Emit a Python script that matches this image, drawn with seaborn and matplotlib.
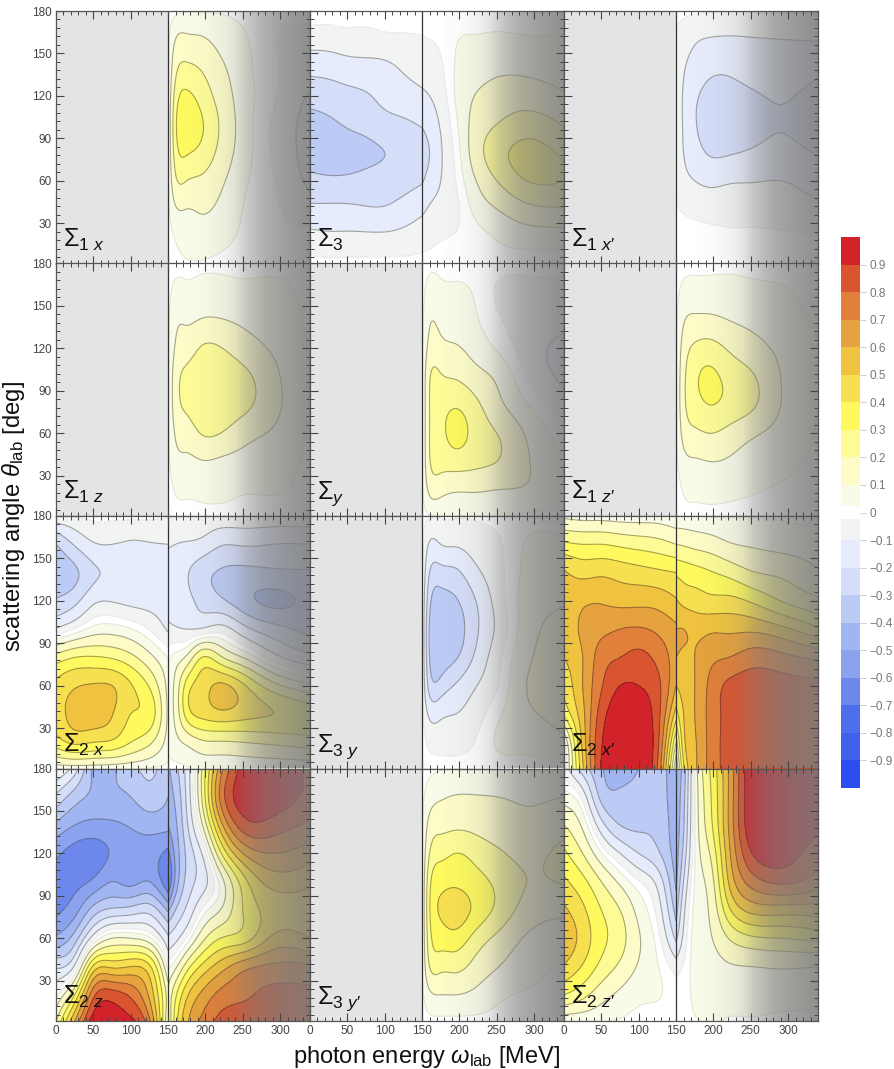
"""Beam asymmetries vs photon energy and scattering angle, 4x3 contour grid."""

import numpy as np
import matplotlib
matplotlib.use("Agg")
import matplotlib.pyplot as plt
import seaborn as sns
from matplotlib.colors import BoundaryNorm, ListedColormap

omega_low = [0, 25, 50, 75, 100, 125, 150]
omega_high = [150, 160, 175, 195, 220, 250, 290, 340]
theta = [1.5, 20, 40, 60, 80, 100, 120, 140, 160, 180]

levels = [-1, -.9, -.8, -.7, -.6, -.5, -.4, -.3, -.2, -.1, -.025,
          .025, .1, .2, .3, .4, .5, .6, .7, .8, .9, 1]
level_colors = ["#2c4cef", "#4060ec", "#4f6eec", "#6c88ed", "#8ba2ef", "#a1b5f3",
                "#bccbf6", "#d5def9", "#e6ecfb", "#f2f4f3", "#ffffff", "#f9fbe9",
                "#fdfcc8", "#fdfb96", "#fdf95e", "#f7e04f", "#efc240", "#e5a23e",
                "#e0803a", "#d9552f", "#d2232a"]
cbar_ticks = [-.9, -.8, -.7, -.6, -.5, -.4, -.3, -.2, -.1, 0, .1, .2, .3, .4, .5, .6, .7, .8, .9]

x_ticks = [0, 50, 100, 150, 200, 250, 300]
y_ticks = [30, 60, 90, 120, 150, 180]

s1x_high = [[0, 0, .01, .01, .01, .01, .01, .01, .005, 0],
            [.01, .03, .09, .18, .25, .28, .24, .17, .1, .01],
            [.02, .05, .1, .2, .31, .37, .32, .22, .12, .02],
            [.02, .06, .11, .18, .27, .31, .26, .19, .11, .02],
            [.01, .045, .08, .12, .17, .19, .16, .12, .07, .02],
            [0, .015, .025, .04, .06, .065, .06, .05, .035, .01],
            [0, -.01, -.015, -.02, -.03, -.03, -.015, -.015, -.02, -.01],
            [0, -.015, -.06, -.12, -.14, -.14, -.11, -.05, -.035, -.01]]

s3_low = [[-.01, -.07, -.18, -.27, -.35, -.34, -.26, -.17, -.06, 0],
          [-.01, -.08, -.18, -.28, -.36, -.32, -.25, -.16, -.06, 0],
          [-.01, -.08, -.18, -.28, -.34, -.29, -.23, -.14, -.05, 0],
          [-.01, -.08, -.19, -.27, -.32, -.27, -.21, -.13, -.05, 0],
          [-.01, -.08, -.19, -.26, -.3, -.24, -.17, -.12, -.04, 0],
          [-.01, -.07, -.16, -.24, -.28, -.22, -.14, -.09, -.035, 0],
          [-.01, -.05, -.12, -.21, -.25, -.19, -.115, -.07, -.03, 0]]
s3_high = [[-.01, -.05, -.12, -.21, -.25, -.19, -.115, -.07, -.03, 0],
           [-.01, -.04, -.09, -.16, -.2, -.155, -.1, -.06, -.025, 0],
           [-.005, -.03, -.07, -.1, -.11, -.09, -.06, -.035, -.015, 0],
           [0, -.02, -.04, -.025, -.01, .01, .03, .03, .02, 0],
           [0, 0, .04, .09, .14, .13, .1, .06, .03, 0],
           [0, .03, .1, .2, .26, .2, .14, .08, .035, 0],
           [0, .055, .17, .3, .33, .25, .15, .08, .03, 0],
           [0, .06, .19, .3, .28, .19, .11, .06, .03, 0]]

s1xp_high = [[0, -.01, -.02, -.03, -.03, -.03, -.03, -.03, -.03, -.01],
             [0, -.01, -.03, -.07, -.1, -.11, -.11, -.09, -.06, -.01],
             [0, -.01, -.04, -.1, -.16, -.19, -.18, -.13, -.09, -.015],
             [0, -.01, -.05, -.12, -.21, -.25, -.24, -.17, -.105, -.02],
             [0, -.015, -.05, -.11, -.21, -.26, -.24, -.18, -.11, -.02],
             [0, -.015, -.05, -.105, -.19, -.235, -.215, -.155, -.105, -.02],
             [0, -.015, -.06, -.1, -.17, -.205, -.19, -.14, -.1, -.02],
             [0, -.02, -.08, -.14, -.21, -.26, -.24, -.17, -.095, -.02]]

s1z_high = [[0, 0, .01, .01, .01, .01, .01, .01, .01, 0],
            [.01, .03, .07, .11, .15, .15, .11, .08, .04, .01],
            [.01, .035, .08, .15, .22, .23, .15, .09, .04, .01],
            [.01, .04, .095, .205, .27, .275, .21, .105, .05, .01],
            [.01, .04, .085, .2, .27, .27, .205, .105, .05, .01],
            [.01, .03, .07, .14, .23, .23, .15, .085, .04, .01],
            [0, .03, .05, .09, .13, .125, .09, .06, .04, .01],
            [0, .01, .015, .015, .02, .02, .02, .015, .01, 0]]

sy_high = [[0, .01, .01, .01, .01, .01, .01, .005, .005, 0],
           [.02, .12, .19, .2, .2, .19, .13, .09, .05, .01],
           [.03, .13, .24, .28, .27, .21, .13, .075, .04, .01],
           [.03, .11, .25, .33, .29, .19, .11, .06, .035, .005],
           [.03, .11, .23, .27, .23, .14, .07, .035, .02, 0],
           [.03, .1, .2, .2, .13, .085, .02, -.015, -.03, -.005],
           [.015, .09, .11, .09, .03, -.025, -.055, -.05, -.04, -.01],
           [.01, .02, .02, -.01, -.07, -.12, -.13, -.07, -.04, -.01]]

s1zp_high = [[0, 0, .01, .01, .01, .01, .01, .01, .01, 0],
             [.01, .03, .07, .13, .17, .17, .14, .09, .04, .01],
             [.01, .04, .09, .18, .26, .28, .22, .12, .05, .01],
             [.01, .045, .1, .2, .3, .32, .24, .12, .05, .01],
             [.01, .04, .09, .17, .27, .27, .19, .1, .05, .01],
             [.01, .03, .06, .12, .22, .215, .14, .08, .04, .01],
             [0, .02, .04, .07, .1, .1, .08, .05, .03, .01],
             [0, .005, .015, .02, .025, .025, .025, .02, .01, 0]]

s2x_low = [[.05, .35, .46, .43, .24, -.09, -.29, -.36, -.3, -.02],
           [.05, .42, .53, .49, .3, -.02, -.23, -.32, -.19, -.02],
           [.05, .4, .55, .51, .31, .05, -.12, -.22, -.11, -.01],
           [.04, .38, .505, .5, .29, .06, -.105, -.18, -.1, -.01],
           [.03, .3, .4, .41, .23, .03, -.12, -.14, -.11, -.01],
           [.02, .22, .36, .29, .13, -.03, -.125, -.135, -.105, -.01],
           [.01, .06, .08, .07, .02, -.11, -.13, -.14, -.1, -.02]]
s2x_high = [[.01, .03, .03, .03, .01, -.08, -.13, -.14, -.09, -.02],
            [.01, .07, .13, .13, .05, -.09, -.14, -.15, -.1, -.02],
            [.02, .12, .34, .34, .12, -.1, -.17, -.19, -.11, -.02],
            [.03, .18, .43, .45, .3, -.09, -.23, -.26, -.13, -.03],
            [.03, .19, .47, .52, .22, -.06, -.28, -.31, -.19, -.03],
            [.03, .2, .44, .42, .1, -.16, -.36, -.33, -.19, -.03],
            [.03, .22, .4, .24, -.06, -.26, -.42, -.32, -.2, -.03],
            [.03, .25, .36, .12, -.17, -.33, -.37, -.31, -.2, -.03]]

s3y_high = [[0, 0, -.01, -.01, -.01, -.01, -.01, -.01, -.01, 0],
            [0, -.04, -.12, -.24, -.3, -.31, -.27, -.2, -.11, -.02],
            [0, -.05, -.12, -.26, -.36, -.385, -.34, -.24, -.1, -.02],
            [0, -.05, -.1, -.19, -.31, -.35, -.31, -.22, -.09, -.02],
            [0, -.025, -.06, -.11, -.19, -.23, -.21, -.13, -.06, -.02],
            [0, .03, .01, -.03, -.05, -.085, -.07, -.05, -.035, -.01],
            [.01, .04, .08, .1, .08, .06, .05, .04, .03, 0],
            [.01, .08, .14, .17, .18, .14, .09, .05, .03, 0]]

s2xp_low = [[-.05, 0, .32, .42, .5, .52, .52, .51, .32, .08],
            [.48, .53, .57, .6, .6, .62, .58, .47, .3, .06],
            [.91, .89, .85, .79, .75, .67, .59, .48, .3, .06],
            [.98, .98, .96, .9, .8, .7, .57, .46, .28, .05],
            [.97, .97, .96, .9, .83, .71, .57, .44, .26, .05],
            [.8, .83, .84, .83, .77, .68, .56, .42, .24, .05],
            [0, .2, .45, .6, .65, .62, .51, .4, .2, .03]]
s2xp_high = [[0, .15, .36, .5, .6, .6, .51, .38, .2, .03],
             [.38, .46, .5, .54, .58, .6, .47, .36, .19, .03],
             [.58, .59, .6, .6, .6, .57, .45, .34, .17, .03],
             [.73, .73, .73, .72, .67, .58, .43, .31, .15, .02],
             [.83, .83, .83, .82, .7, .58, .43, .27, .11, .02],
             [.87, .87, .87, .85, .75, .58, .39, .21, .09, .02],
             [.88, .88, .87, .84, .73, .53, .3, .18, .07, .02],
             [.87, .87, .86, .82, .68, .42, .22, .11, .05, .01]]

s2z_low = [[.2, 0, -.22, -.48, -.62, -.63, -.58, -.42, -.22, 0],
           [.6, .3, -.08, -.35, -.54, -.63, -.64, -.5, -.35, -.15],
           [.95, .77, .42, -.05, -.36, -.58, -.65, -.53, -.42, -.42],
           [.95, .85, .48, .1, -.28, -.5, -.59, -.52, -.42, -.42],
           [.92, .78, .5, .1, -.26, -.53, -.56, -.49, -.4, -.33],
           [.72, .58, .42, .04, -.24, -.5, -.55, -.46, -.34, -.28],
           [.1, .15, 0, -.18, -.42, -.68, -.63, -.47, -.4, -.35]]
s2z_high = [[.1, .12, 0, -.18, -.42, -.7, -.63, -.5, -.45, -.42],
            [.35, .28, .08, -.13, -.3, -.47, -.47, -.42, -.38, -.33],
            [.58, .48, .25, -.02, -.18, -.27, -.28, -.22, -.18, -.16],
            [.72, .62, .42, .16, -.02, -.15, -.1, .08, .2, .2],
            [.83, .73, .55, .3, .1, .05, .28, .55, .72, .65],
            [.87, .78, .66, .35, .3, .35, .6, .85, .95, .93],
            [.88, .83, .72, .52, .44, .54, .7, .86, .96, .96],
            [.87, .82, .72, .5, .45, .52, .65, .78, .87, .88]]

s3yp_high = [[0, .01, .01, .01, .01, .01, .01, .01, .01, 0],
             [.01, .08, .2, .26, .29, .27, .2, .13, .06, .01],
             [.01, .1, .23, .35, .41, .37, .27, .17, .09, .02],
             [.01, .1, .23, .36, .45, .38, .3, .18, .105, .02],
             [.01, .08, .17, .27, .38, .34, .27, .17, .105, .02],
             [.01, .04, .105, .18, .28, .28, .22, .14, .1, .02],
             [.01, .02, .05, .09, .16, .2, .17, .115, .09, .02],
             [.01, .015, .02, .06, .12, .21, .24, .15, .1, .02]]

s2zp_low = [[.03, .3, .49, .58, .52, .42, .32, .2, .06, -.05],
            [.03, .23, .39, .46, .42, .33, .2, .08, -.05, -.25],
            [.03, .14, .27, .33, .3, .2, .03, -.16, -.33, -.39],
            [.02, .08, .18, .24, .2, .08, -.1, -.3, -.38, -.45],
            [.01, .04, .09, .11, .07, -.02, -.2, -.32, -.36, -.4],
            [0, .03, .03, 0, -.05, -.13, -.28, -.33, -.35, -.36],
            [0, 0, -.06, -.22, -.34, -.42, -.45, -.46, -.47, -.47]]
s2zp_high = [[0, 0, -.06, -.22, -.34, -.42, -.45, -.46, -.47, -.47],
             [.01, 0, -.02, -.08, -.13, -.2, -.27, -.31, -.33, -.36],
             [.02, .04, .05, .05, .04, .03, .02, .02, .02, .03],
             [.03, .05, .07, .09, .11, .14, .2, .26, .28, .3],
             [.02, .05, .09, .2, .37, .5, .56, .6, .6, .6],
             [.02, .05, .1, .28, .53, .74, .89, .97, .98, .98],
             [.01, .05, .11, .3, .55, .82, .95, .99, .99, .99],
             [.01, .04, .1, .33, .55, .75, .85, .92, .93, .93]]

# label, data below 150 MeV, data above 150 MeV, row by row
panels = [
    (r"$\Sigma_{1\ x}$", None, s1x_high), (r"$\Sigma_{3}$", s3_low, s3_high), (r"$\Sigma_{1\ x\prime}$", None, s1xp_high),
    (r"$\Sigma_{1\ z}$", None, s1z_high), (r"$\Sigma_{y}$", None, sy_high), (r"$\Sigma_{1\ z\prime}$", None, s1zp_high),
    (r"$\Sigma_{2\ x}$", s2x_low, s2x_high), (r"$\Sigma_{3\ y}$", None, s3y_high), (r"$\Sigma_{2\ x\prime}$", s2xp_low, s2xp_high),
    (r"$\Sigma_{2\ z}$", s2z_low, s2z_high), (r"$\Sigma_{3\ y\prime}$", None, s3yp_high), (r"$\Sigma_{2\ z\prime}$", s2zp_low, s2zp_high),
]

# grey fade on the right side of each panel
fade_omega = [150, 175, 200, 225, 240, 255, 280, 310, 340]
fade_alpha = [0, 0, .03, .1, .2, .4, .62, .75, .85]

W, H = 894, 1069
col_edges = [56, 310, 564, 818]
row_edges = [11, 263.5, 516, 768.5, 1021]

sns.set_style("white")
plt.rcParams["font.family"] = ["Liberation Sans", "DejaVu Sans"]
plt.rcParams["mathtext.fontset"] = "custom"
plt.rcParams["mathtext.rm"] = "Liberation Sans"
plt.rcParams["mathtext.it"] = "Liberation Sans:italic"
plt.rcParams["mathtext.bf"] = "Liberation Sans:bold"


def px_axes(fig, left, top, right, bottom):
    return fig.add_axes([left / W, 1 - bottom / H, (right - left) / W, (bottom - top) / H])


def spline_matrix(knots, points):
    """Natural cubic spline as a matrix, used only to draw round contours."""
    knots = np.asarray(knots, dtype=float)
    n = len(knots)
    h = np.diff(knots)
    A = np.zeros((n, n))
    R = np.zeros((n, n))
    A[0, 0] = A[-1, -1] = 1
    for i in range(1, n - 1):
        A[i, i - 1:i + 2] = h[i - 1], 2 * (h[i - 1] + h[i]), h[i]
        R[i, i - 1:i + 2] = 6 / h[i - 1], -6 / h[i - 1] - 6 / h[i], 6 / h[i]
    M = np.linalg.solve(A, R)
    idx = np.clip(np.searchsorted(knots, points) - 1, 0, n - 2)
    out = np.zeros((len(points), n))
    for j, (p, i) in enumerate(zip(points, idx)):
        a = (knots[i + 1] - p) / h[i]
        b = (p - knots[i]) / h[i]
        out[j] = (a ** 3 - a) * h[i] ** 2 / 6 * M[i] + (b ** 3 - b) * h[i] ** 2 / 6 * M[i + 1]
        out[j, i] += a
        out[j, i + 1] += b
    return out


def draw_side(ax, omega, values):
    """Filled contours and lines for one side of the 150 MeV threshold."""
    om_fine = np.linspace(omega[0], omega[-1], 160)
    th_fine = np.linspace(theta[0], theta[-1], 220)
    z = spline_matrix(omega, om_fine) @ np.array(values, dtype=float) @ spline_matrix(theta, th_fine).T
    z = np.clip(z, -.999, .999).T
    ax.contourf(om_fine, th_fine, z, levels=levels, colors=level_colors, zorder=1)
    main = [lv for lv in levels if abs(lv) not in (.025, 1)]
    ax.contour(om_fine, th_fine, z, levels=main, colors=[(0.1, 0.1, 0.1, .38)],
               linewidths=.8, linestyles="solid", zorder=2)
    ax.contour(om_fine, th_fine, z, levels=[-.025, .025], colors=[(0.1, 0.1, 0.1, .09)],
               linewidths=.8, linestyles="solid", zorder=2)


fig = plt.figure(figsize=(W / 100, H / 100), dpi=100)

x_fine = np.linspace(0, 340, 341)
fade = np.ones((1, x_fine.size, 4)) * .49
fade[0, :, 3] = np.interp(x_fine, fade_omega, fade_alpha)

for i, (label, low, high) in enumerate(panels):
    row, col = divmod(i, 3)
    ax = px_axes(fig, col_edges[col], row_edges[row], col_edges[col + 1], row_edges[row + 1])
    if low is None:
        ax.axvspan(0, 150, color="#e4e4e4", lw=0, zorder=1)
    else:
        draw_side(ax, omega_low, low)
    draw_side(ax, omega_high, high)
    ax.imshow(fade, extent=(0, 340, 1.5, 180), aspect="auto", interpolation="bilinear", zorder=2.2)
    ax.axvline(150, color="#333333", lw=.9, zorder=2.4)
    ax.set_xlim(0, 340)
    ax.set_ylim(1.5, 180)
    ax.set_axisbelow(False)

    ax.set_xticks(x_ticks)
    ax.set_yticks(y_ticks)
    ax.set_xticks(np.arange(10, 340, 10), minor=True)
    ax.set_yticks(np.arange(6, 180, 6), minor=True)
    ax.tick_params(which="major", direction="in", length=6, width=.8, color="#444444",
                   top=True, right=True, bottom=True, left=True, labelsize=8.5,
                   labelcolor="#444444", pad=3)
    ax.tick_params(which="minor", direction="in", length=3, width=.7, color="#444444",
                   top=True, right=True, bottom=True, left=True)
    ax.tick_params(labelbottom=row == 3, labelleft=col == 0)
    for spine in ax.spines.values():
        spine.set_color("#555555")
        spine.set_linewidth(.9)
        spine.set_zorder(6)

    ax.text(.028, .067, label, transform=ax.transAxes, fontsize=18, color="#111111",
            ha="left", va="baseline", zorder=7)

fig.text(14 / W, 1 - 516 / H, r"scattering angle $\theta_{\mathrm{lab}}$ [deg]", rotation=90,
         fontsize=17.2, color="#111111", ha="center", va="center")
fig.text(427 / W, 1 - 1057 / H, r"photon energy $\omega_{\mathrm{lab}}$ [MeV]",
         fontsize=17, color="#111111", ha="center", va="center")

# colour bar as a one column heatmap, top row is +1
cax = px_axes(fig, 841, 237, 860, 788)
step = .025
bar_values = np.arange(1 - step / 2, -1, -step).reshape(-1, 1)
sns.heatmap(bar_values, ax=cax, cbar=False, cmap=ListedColormap(level_colors),
            norm=BoundaryNorm(levels, len(level_colors)), linewidths=0)
cax.set_xticks([])
cax.yaxis.tick_right()
cax.set_yticks([(1 - v) / step for v in cbar_ticks])
cax.set_yticklabels(["0" if v == 0 else f"{v:.1f}".replace("-", "\u2212") for v in cbar_ticks],
                    rotation=0, fontsize=8.5, color="#777777")
cax.tick_params(axis="y", length=4, width=.5, color="#bbbbbb", pad=3, right=True, left=False)
for spine in cax.spines.values():
    spine.set_visible(False)

fig.savefig("out.png", dpi=100)
